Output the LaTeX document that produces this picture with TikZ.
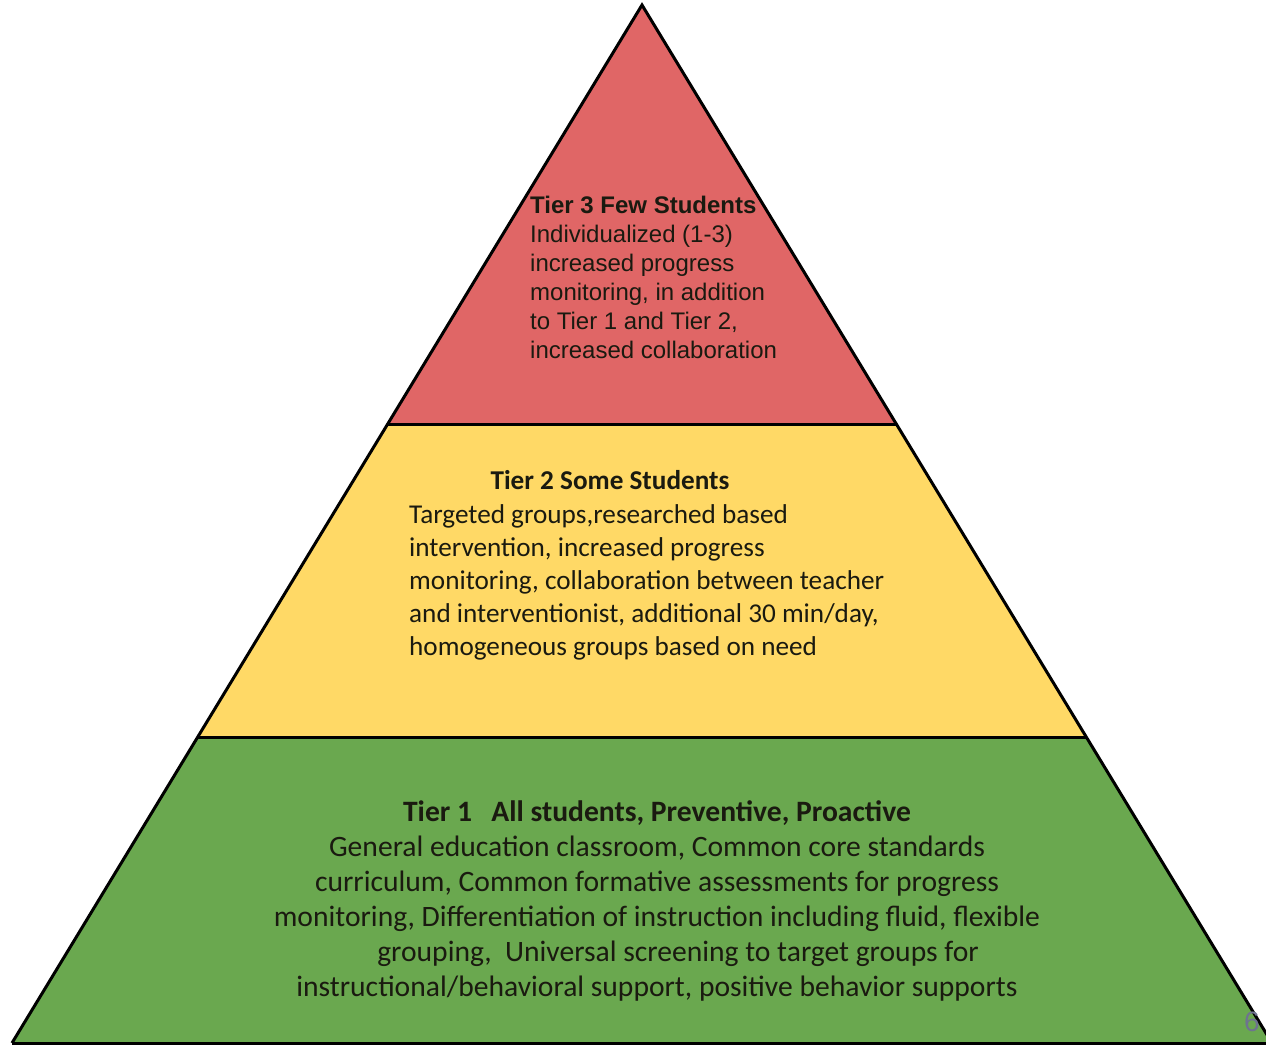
\documentclass[tikz,border=0pt]{standalone}
\usepackage{fontspec}
\setmainfont{Carlito}
\newfontfamily\arialfont{Liberation Sans}
\usetikzlibrary{calc}
\definecolor{tierred}{HTML}{E06666}
\definecolor{tieryellow}{HTML}{FFD966}
\definecolor{tiergreen}{HTML}{6AA84F}
\definecolor{pagenum}{HTML}{6E7390}
\definecolor{inktext}{HTML}{1A1A10}
\tikzset{
  layer/.style={draw=black, line width=3pt, line join=miter},
  tierthree/.style={inner sep=0pt, anchor=base west, align=left, text=inktext,
    font=\arialfont\fontsize{24}{29}\selectfont},
  tiertwo/.style={inner sep=0pt, anchor=base west, align=left, text=inktext,
    font=\fontsize{27.2}{33}\selectfont},
  tierone/.style={inner sep=0pt, anchor=base, align=center, text=inktext,
    font=\fontsize{29.6}{35}\selectfont},
}
\begin{document}
\begin{tikzpicture}[x=1pt,y=-1pt]
\useasboundingbox (0,0) rectangle (1266,1046);
\fill[white] (0,0) rectangle (1266,1046);
\begin{scope}
\clip (0,0) rectangle (1266,1046);
\coordinate (apex) at (642,5);
\coordinate (bl) at (12,1043);
\coordinate (br) at (1272,1043);
\coordinate (l1) at ($(apex)!0.4037!(bl)$);
\coordinate (r1) at ($(apex)!0.4037!(br)$);
\coordinate (l2) at ($(apex)!0.7052!(bl)$);
\coordinate (r2) at ($(apex)!0.7052!(br)$);
\fill[tierred] (apex) -- (r1) -- (l1) -- cycle;
\fill[tieryellow] (l1) -- (r1) -- (r2) -- (l2) -- cycle;
\fill[tiergreen] (l2) -- (r2) -- (br) -- (bl) -- cycle;
\draw[layer] (l1) -- (r1);
\draw[layer] (l2) -- (r2);
\draw[layer] (bl) -- (apex) -- (br);
\draw[black, line width=3pt] (bl) -- (br);
\end{scope}

\node[tierthree] (t3) at (530,358) {\textbf{Tier 3 Few Students}\\
Individualized (1-3)\\
increased progress\\
monitoring, in addition\\
to Tier 1 and Tier 2,\\
increased collaboration};

\node[tiertwo, anchor=base] (t2h) at (610,489) {\textbf{Tier 2 Some Students}};
\node[tiertwo] (t2) at (409,655) {Targeted groups,researched based\\
intervention, increased progress\\
monitoring, collaboration between teacher\\
and interventionist, additional 30 min/day,\\
homogeneous groups based on need};

\node[tierone] (t1) at (657,996) {\textbf{Tier 1\hspace{0.65em}All students, Preventive, Proactive}\\
General education classroom, Common core standards\\
curriculum, Common formative assessments for progress\\
monitoring, Differentiation of instruction including fluid, flexible\\
\hspace*{42pt}grouping,\ \ Universal screening to target groups for\\
instructional/behavioral support, positive behavior supports};

\node[inner sep=0pt, anchor=base west, text=pagenum, font=\arialfont\fontsize{28}{30}\selectfont] (pg) at (1244,1031) {6};
\end{tikzpicture}
\end{document}
